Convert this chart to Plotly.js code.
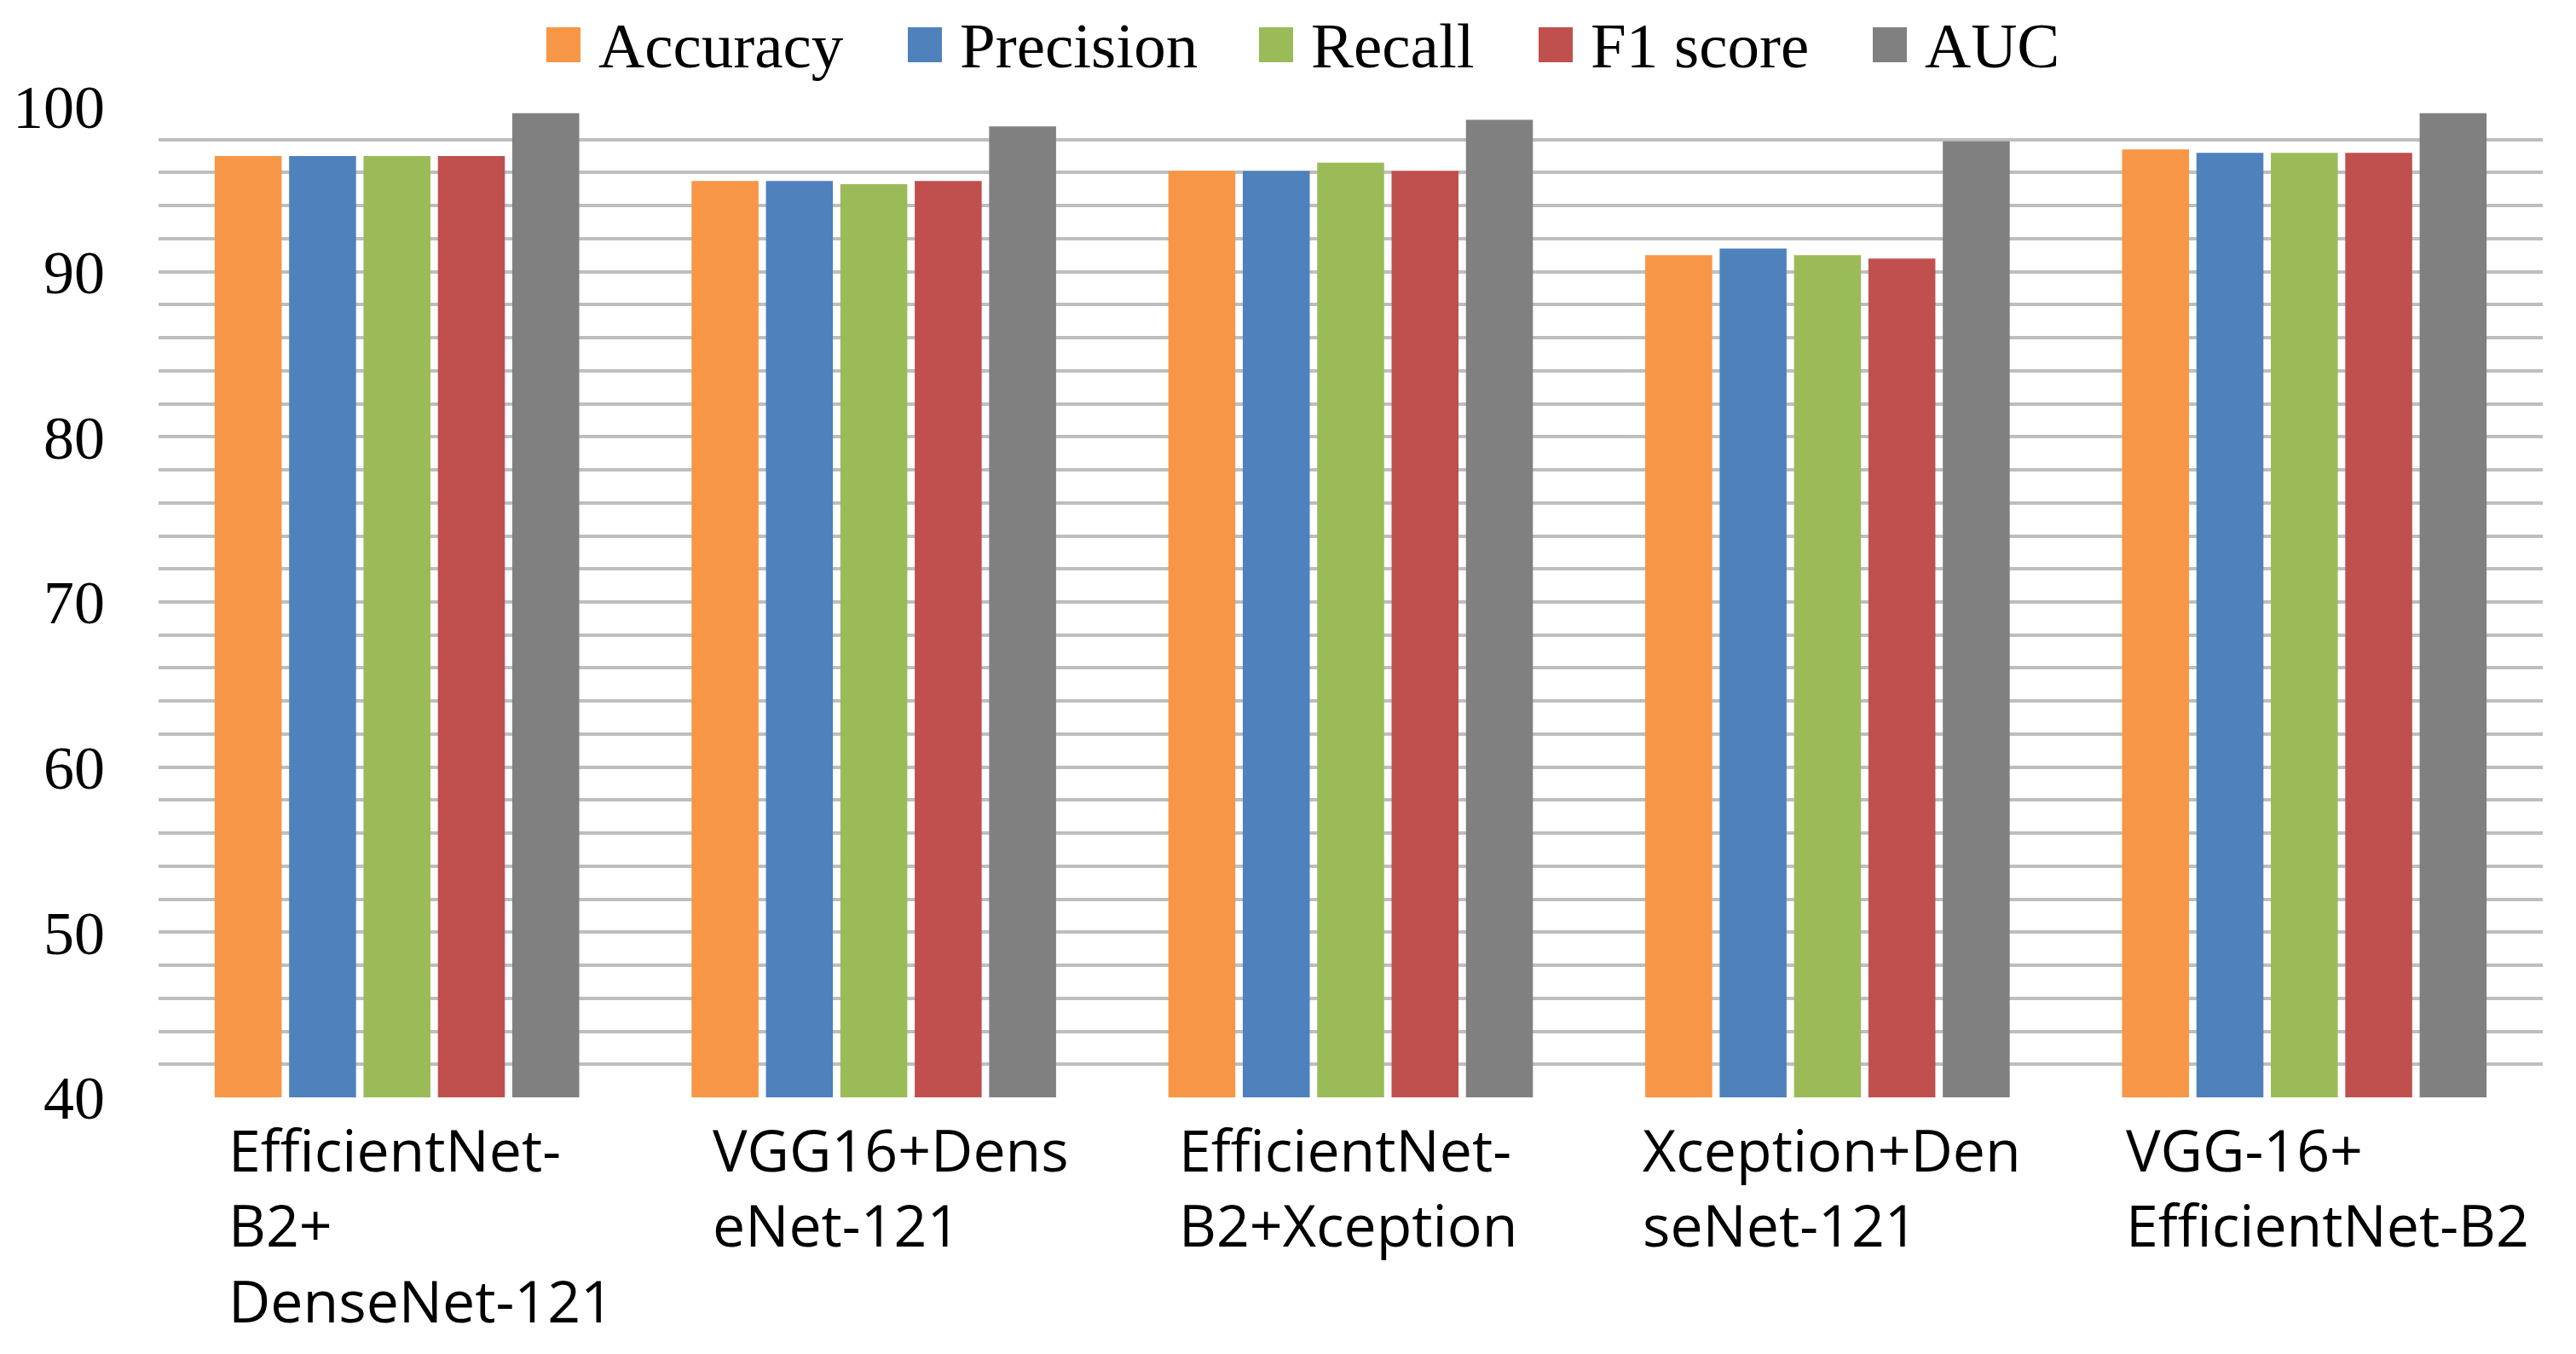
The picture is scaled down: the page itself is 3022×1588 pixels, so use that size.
<!DOCTYPE html>
<html>
<head>
<meta charset="utf-8">
<script src="https://cdn.plot.ly/plotly-3.0.1.min.js"></script>
<style>html,body{margin:0;padding:0;background:#fff;}#chart{width:3022px;height:1588px;}</style>
</head>
<body>
<div id="chart"></div>
<script>
// ---- data ----
const categories = ["EfficientNet-B2+DenseNet-121", "VGG16+DenseNet-121", "EfficientNet-B2+Xception", "Xception+DenseNet-121", "VGG-16+EfficientNet-B2"];
const categoryLabels = ["EfficientNet-<br>B2+<br>DenseNet-121", "VGG16+Dens<br>eNet-121", "EfficientNet-<br>B2+Xception", "Xception+Den<br>seNet-121", "VGG-16+<br>EfficientNet-B2"];
const seriesNames = ["Accuracy", "Precision", "Recall", "F1 score", "AUC"];
const accuracy  = [97.0, 95.5, 96.1, 91.0, 97.4];
const precision = [97.0, 95.5, 96.1, 91.4, 97.2];
const recall    = [97.0, 95.3, 96.6, 91.0, 97.2];
const f1score   = [97.0, 95.5, 96.1, 90.8, 97.2];
const auc       = [99.6, 98.8, 99.2, 97.9, 99.6];
const yTickVals = [40, 50, 60, 70, 80, 90, 100];

// ---- styling ----
const seriesValues = [accuracy, precision, recall, f1score, auc];
const colors = ["#F79646", "#4F81BD", "#9BBB59", "#C0504D", "#808080"];
const W = 3022, H = 1588;
const M = {l: 186, r: 39, t: 125, b: 301};
const PW = W - M.l - M.r, PH = H - M.t - M.b;
const px2x = p => (p - M.l) / PW;
const px2y = p => (H - M.b - p) / PH;
const legendTextLeft = [700, 1124, 1536, 1864, 2256];
const labelShift = [-200, -191, -204, -219, -211];
const serif = "'Liberation Serif', 'Times New Roman', serif";
const sans = "'Open Sans', Carlito, Calibri, sans-serif";

const traces = seriesNames.map((name, i) => ({
  type: "bar",
  name: name,
  x: categories,
  y: seriesValues[i],
  marker: {color: colors[i], line: {width: 0}},
  showlegend: false,
  hoverinfo: "x+y+name"
}));

const annotations = [];
const shapes = [];
seriesNames.forEach((name, i) => {
  annotations.push({
    xref: "paper", yref: "paper",
    x: px2x(legendTextLeft[i]), y: px2y(53),
    xanchor: "left", yanchor: "middle",
    text: name, showarrow: false,
    font: {family: serif, size: 75, color: "#000"}
  });
  shapes.push({
    type: "rect", xref: "paper", yref: "paper", layer: "above",
    x0: px2x(legendTextLeft[i] - 59), x1: px2x(legendTextLeft[i] - 19),
    y0: px2y(73), y1: px2y(32),
    fillcolor: colors[i], line: {width: 0}
  });
});
categories.forEach((c, i) => {
  annotations.push({
    xref: "x", yref: "paper",
    x: c, y: 0,
    xanchor: "left", yanchor: "top", align: "left",
    xshift: labelShift[i], yshift: -12,
    text: categoryLabels[i], showarrow: false,
    font: {family: sans, size: 68, color: "#000"}
  });
});

const layout = {
  width: W, height: H, autosize: false,
  margin: M,
  paper_bgcolor: "#fff", plot_bgcolor: "#fff",
  barmode: "group", bargap: 0.22, bargroupgap: 0.1,
  showlegend: false,
  xaxis: {
    type: "category", categoryorder: "array", categoryarray: categories,
    showticklabels: false, showgrid: false, zeroline: false, showline: false, ticks: ""
  },
  yaxis: {
    range: [40, 100], autorange: false,
    tickvals: yTickVals, ticktext: yTickVals.map(String),
    tickfont: {family: serif, size: 72, color: "#000"},
    ticks: "", ticklabelstandoff: 62,
    showgrid: true, gridcolor: "#BEBEBE", gridwidth: 3.5,
    minor: {dtick: 2, tick0: 40, showgrid: true, gridcolor: "#BEBEBE", gridwidth: 3.5, ticks: ""},
    zeroline: false, showline: false
  },
  annotations: annotations,
  shapes: shapes
};

Plotly.newPlot("chart", traces, layout, {displayModeBar: false, responsive: false});
</script>
</body>
</html>
